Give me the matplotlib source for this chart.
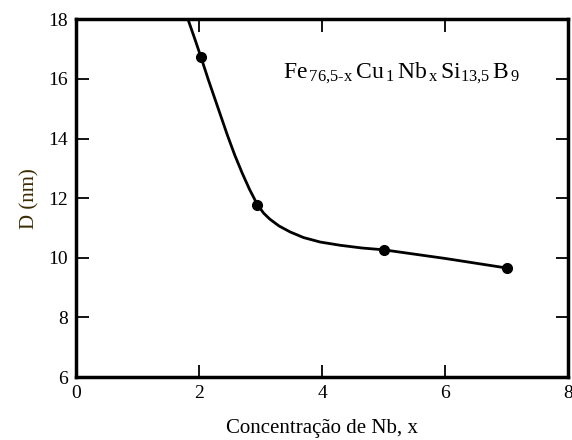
import numpy as np
import matplotlib.pyplot as plt

# measured points
nb_x = [2.03, 2.95, 5.0, 7.0]
d_nm = [16.74, 11.78, 10.27, 9.66]

# guide curve
curve_x = [1.82, 1.93, 2.03, 2.15, 2.25, 2.36, 2.46, 2.58, 2.7, 2.82, 2.95,
           3.05, 3.15, 3.3, 3.48, 3.7, 3.97, 4.3, 4.65, 5.0, 6.0, 7.0]
curve_y = [18.0, 17.35, 16.74, 15.98, 15.38, 14.72, 14.12, 13.45, 12.85, 12.3, 11.78,
           11.5, 11.3, 11.07, 10.87, 10.68, 10.53, 10.42, 10.33, 10.27, 9.98, 9.66]

xticks = [0, 2, 4, 6, 8]
yticks = [6, 8, 10, 12, 14, 16, 18]

plt.rcParams['font.family'] = 'Liberation Serif'
plt.rcParams['mathtext.fontset'] = 'custom'
plt.rcParams['mathtext.rm'] = 'Liberation Serif'
plt.rcParams['mathtext.it'] = 'Liberation Serif'

fig = plt.figure(figsize=(5.72, 4.4), dpi=100)
ax = fig.add_axes((0.133, 0.143, 0.860, 0.813))

ax.plot(curve_x, curve_y, color='black', lw=2, solid_capstyle='round',
        solid_joinstyle='round', clip_on=False)
ax.plot(nb_x, d_nm, 'o', color='black', ms=7)

ax.set_xlim(0, 8)
ax.set_ylim(6, 18)
ax.set_xticks(xticks)
ax.set_yticks(yticks)
ax.tick_params(direction='in', length=9, width=1.3, labelsize=14,
               top=True, right=True, pad=6)
for s in ax.spines.values():
    s.set_linewidth(2.5)

ax.set_xlabel('Concentração de Nb, x', fontsize=15, labelpad=12)
ax.set_ylabel('D (nm)', fontsize=15, color='#3a2c00', labelpad=6)

ax.text(0.42, 0.85,
        r'$\mathrm{Fe}_{\,\mathrm{76{,}5\text{-}x}}\,\mathrm{Cu}_{\,\mathrm{1}}\,\mathrm{Nb}_{\,\mathrm{x}}'
        r'\,\mathrm{Si}_{\mathrm{13{,}5}}\,\mathrm{B}_{\,\mathrm{9}}$',
        transform=ax.transAxes, fontsize=17, ha='left', va='center')

fig.savefig('out.png', dpi=100)
